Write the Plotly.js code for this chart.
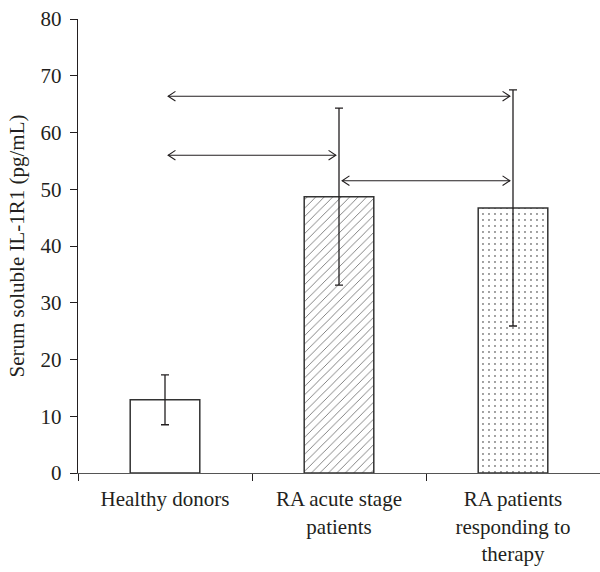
<!DOCTYPE html>
<html>
<head>
<meta charset="utf-8">
<script src="https://cdn.plot.ly/plotly-3.0.1.min.js"></script>
<style>html,body{margin:0;padding:0;background:#fff;}#chart{width:600px;height:572px;}</style>
</head>
<body>
<div id="chart"></div>
<script>
// ---- data ----
var categories = ['Healthy donors', 'RA acute stage<br>patients', 'RA patients<br>responding to<br>therapy'];
var means = [12.9, 48.7, 46.7];
var errUp = [4.4, 15.6, 20.8];
var errDown = [4.4, 15.6, 20.8];
var patterns = ['', '/', '.'];
var yTicks = [0, 10, 20, 30, 40, 50, 60, 70, 80];
// comparison arrows: from group index, to group index, y level
var arrowFrom = [0, 0, 1];
var arrowTo = [2, 1, 2];
var arrowY = [66.4, 56, 51.5];

// ---- styling ----
var ink = '#231f20';
var font = {family: '"Liberation Serif", "DejaVu Serif", serif', size: 21, color: ink};
var headDx = 0.042, headDy = 0.85, gap = 0.018;

var traces = [{
  type: 'bar',
  x: categories,
  y: means,
  width: 0.4,
  marker: {
    color: 'white',
    line: {color: '#333', width: 1.5},
    pattern: {shape: patterns, fgcolor: ['#333', '#777', '#111'], bgcolor: 'white',
              size: [6, 6, 6], solidity: [0.1, 0.15, 0.045]}
  },
  error_y: {type: 'data', symmetric: false, array: errUp, arrayminus: errDown,
            color: ink, thickness: 1.3, width: 4},
  hoverinfo: 'skip', showlegend: false
}];

// arrows built from comparison arrays on an overlaying numeric axis
var ax = [], ay = [];
for (var i = 0; i < arrowY.length; i++) {
  var a = arrowFrom[i] + gap, b = arrowTo[i] - gap, y = arrowY[i];
  ax.push(a, b, null);
  ay.push(y, y, null);
  ax.push(a + headDx, a, a + headDx, null);
  ay.push(y + headDy, y, y - headDy, null);
  ax.push(b - headDx, b, b - headDx, null);
  ay.push(y + headDy, y, y - headDy, null);
}
traces.push({
  type: 'scatter', mode: 'lines', x: ax, y: ay, xaxis: 'x2',
  line: {color: ink, width: 1.1}, hoverinfo: 'skip', showlegend: false, connectgaps: false
});

var layout = {
  width: 600, height: 572,
  margin: {l: 78, r: 0, t: 19, b: 99},
  paper_bgcolor: 'white', plot_bgcolor: 'white',
  font: font,
  showlegend: false,
  xaxis: {
    type: 'category', range: [-0.5, 2.5], tickson: 'boundaries',
    ticks: 'outside', ticklen: 7, tickcolor: ink, tickwidth: 1,
    showline: true, linecolor: '#555', linewidth: 1.2,
    showgrid: false, zeroline: false, tickfont: font, ticklabelstandoff: 7
  },
  xaxis2: {overlaying: 'x', range: [-0.5, 2.5], visible: false},
  yaxis: {
    range: [0, 80], tickvals: yTicks, ticks: 'outside', ticklen: 7, tickcolor: ink,
    showline: true, linecolor: ink, linewidth: 1.2, showgrid: false, zeroline: false,
    tickfont: font, ticklabelstandoff: 4,
    title: {text: 'Serum soluble IL-1R1 (pg/mL)', font: font, standoff: 10}
  }
};

Plotly.newPlot('chart', traces, layout, {staticPlot: true, displayModeBar: false});
</script>
</body>
</html>
